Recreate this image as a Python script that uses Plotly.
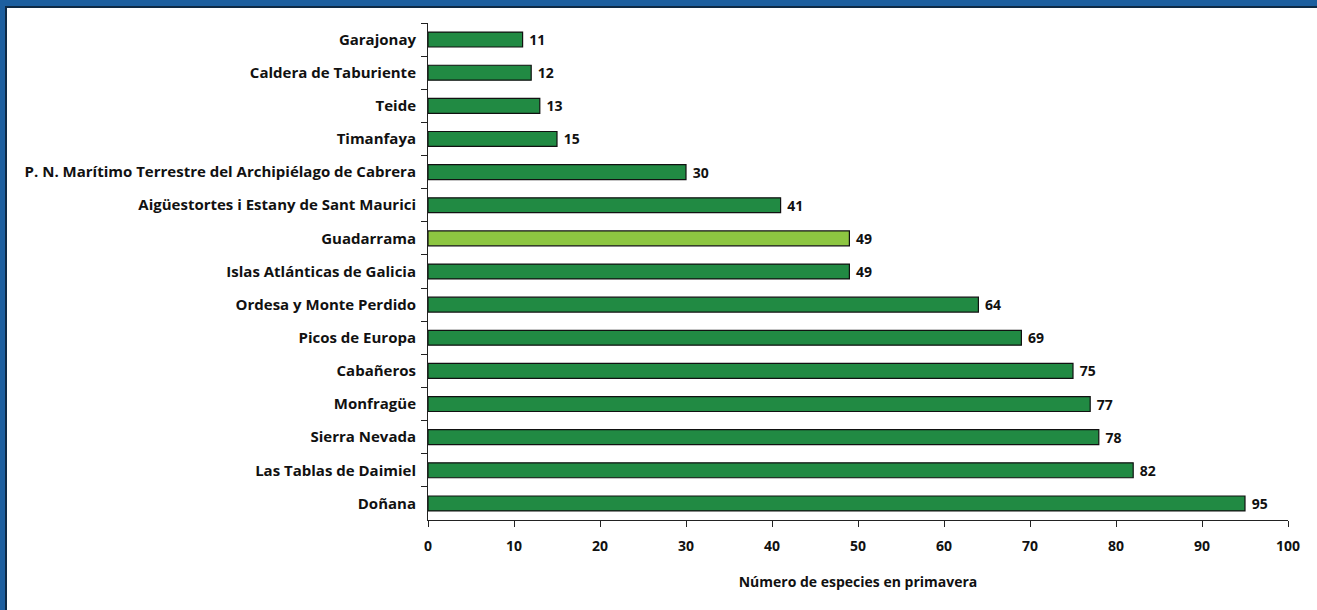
import plotly.graph_objects as go

# Parks, listed top to bottom
parques = [
    "Garajonay",
    "Caldera de Taburiente",
    "Teide",
    "Timanfaya",
    "P. N. Marítimo Terrestre del Archipiélago de Cabrera",
    "Aigüestortes i Estany de Sant Maurici",
    "Guadarrama",
    "Islas Atlánticas de Galicia",
    "Ordesa y Monte Perdido",
    "Picos de Europa",
    "Cabañeros",
    "Monfragüe",
    "Sierra Nevada",
    "Las Tablas de Daimiel",
    "Doñana",
]
especies = [11, 12, 13, 15, 30, 41, 49, 49, 64, 69, 75, 77, 78, 82, 95]
destacado = "Guadarrama"

x_ticks = [0, 10, 20, 30, 40, 50, 60, 70, 80, 90, 100]

VERDE = "#218A43"
VERDE_CLARO = "#8DC641"
AZUL = "#1D5F9F"
MARINO = "#0E2A45"
FUENTE = "Open Sans"

colores = [VERDE_CLARO if p == destacado else VERDE for p in parques]

fig = go.Figure(
    go.Bar(
        x=especies,
        y=parques,
        orientation="h",
        marker=dict(color=colores, line=dict(color="#111111", width=1.2)),
        texttemplate="\u00a0<b>%{x}</b>",
        textposition="outside",
        constraintext="none",
        textfont=dict(family=FUENTE, size=14, color="#111111"),
        cliponaxis=False,
        hoverinfo="x+y",
    )
)

W, H = 1317, 610
L, R, T, B = 428, 29, 23, 90
pw, ph = W - L - R, H - T - B


def px_x(p):
    return (p - L) / pw


def px_y(p):
    return (H - B - p) / ph


# paper is blue; a navy edge and a white panel sit on top of it,
# leaving the frame visible only along the top and left sides
shapes = [
    dict(type="rect", xref="paper", yref="paper", layer="below", line=dict(width=0),
         x0=px_x(5), x1=px_x(W), y0=px_y(H), y1=px_y(6), fillcolor=MARINO),
    dict(type="rect", xref="paper", yref="paper", layer="below", line=dict(width=0),
         x0=px_x(7), x1=px_x(W), y0=px_y(H), y1=px_y(8), fillcolor="white"),
]

fig.update_layout(
    width=W,
    height=H,
    margin=dict(l=L, r=R, t=T, b=B),
    paper_bgcolor=AZUL,
    plot_bgcolor="rgba(0,0,0,0)",
    bargap=0.55,
    showlegend=False,
    shapes=shapes,
    font=dict(family=FUENTE, size=14, color="#111111"),
    xaxis=dict(
        range=[0, 100],
        tickvals=x_ticks,
        ticktext=["<b>%d</b>" % t for t in x_ticks],
        ticks="outside",
        ticklen=6,
        tickcolor="#222222",
        showline=True,
        linecolor="#222222",
        linewidth=1,
        showgrid=False,
        zeroline=False,
        tickfont=dict(family=FUENTE, size=14, color="#111111"),
        ticklabelstandoff=7,
        title=dict(
            text="<b>Número de especies en primavera</b>",
            font=dict(family=FUENTE, size=14, color="#111111"),
            standoff=23,
        ),
        fixedrange=True,
    ),
    yaxis=dict(
        type="category",
        autorange="reversed",
        ticks="outside",
        tickson="boundaries",
        ticklen=6,
        tickcolor="#222222",
        showline=True,
        linecolor="#222222",
        linewidth=1,
        showgrid=False,
        tickfont=dict(family=FUENTE, size=15, color="#111111"),
        tickprefix="<b>",
        ticksuffix="</b>",
        ticklabelstandoff=8,
        fixedrange=True,
    ),
)

fig.write_html(
    "out.html",
    config={"displayModeBar": False},
    post_script="document.body.style.margin='0';"
    "document.body.style.overflow='hidden';"
    "document.documentElement.style.overflow='hidden';",
)
